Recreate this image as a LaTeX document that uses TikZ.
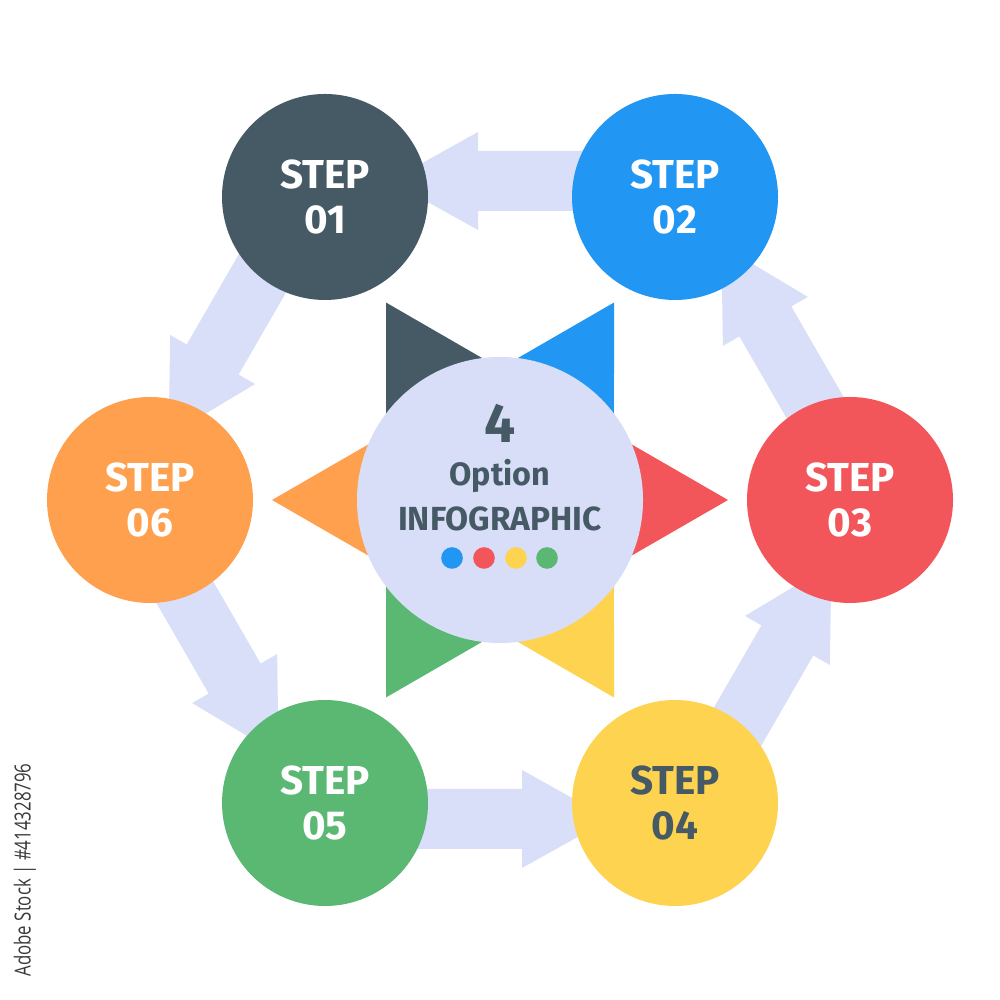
\documentclass[tikz,border=0pt]{standalone}
\usepackage{fontspec}
\setmainfont{Fira Sans}
\newfontfamily\wmfont{Open Sans}
\usetikzlibrary{calc}
\definecolor{cdark}{HTML}{465A66}
\definecolor{cblue}{HTML}{2196F3}
\definecolor{cred}{HTML}{F2565B}
\definecolor{cyellow}{HTML}{FED34F}
\definecolor{cgreen}{HTML}{5AB873}
\definecolor{corange}{HTML}{FFA04F}
\definecolor{chub}{HTML}{D8DDF8}
\definecolor{carrow}{HTML}{DADFF9}
\definecolor{ctext}{HTML}{455A64}
\definecolor{cwm}{HTML}{3A3A3A}
\pgfdeclarelayer{bg}
\pgfsetlayers{bg,main}
\tikzset{
  stepnode/.style={circle, minimum size=2.06cm, inner sep=0pt, align=center,
    font=\fontsize{11.5}{12.8}\selectfont\bfseries, text=white},
  hubnode/.style={circle, minimum size=2.86cm, inner sep=0pt, fill=chub},
  hubtext/.style={anchor=base, inner sep=0pt, text=ctext},
  dotnode/.style={circle, minimum size=0.216cm, inner sep=0pt},
}
\newcommand{\flowarrow}[2]{%
  \fill[carrow] let \p1=($(#2.center)-(#1.center)$), \n1={atan2(\y1,\x1)}, \n2={\n1-90} in
    ($(#1.center)+(\n1:0.80)+(\n2:0.46)$) --
    ($(#1.center)+(\n1:1.97)+(\n2:0.46)$) --
    ($(#1.center)+(\n1:1.97)+(\n2:0.65)$) --
    ($(#1.center)+(\n1:2.85)+(\n2:0.16)$) --
    ($(#1.center)+(\n1:1.97)+(\n2:-0.33)$) --
    ($(#1.center)+(\n1:1.97)+(\n2:-0.14)$) --
    ($(#1.center)+(\n1:0.80)+(\n2:-0.14)$) -- cycle;}
\begin{document}
\begin{tikzpicture}
\useasboundingbox (0,0) rectangle (10,10);
% star
\begin{scope}[shift={(5,5)}]
\foreach \a/\c in {0/cred,60/cblue,120/cdark,180/corange,240/cgreen,300/cyellow}
  \fill[\c] (\a:2.28) -- (\a+30:1.316) -- (\a-30:1.316) -- cycle;
\end{scope}
% hub
\node[hubnode] (hub) at (5,5) {};
\node[hubtext, font=\fontsize{15.7}{16}\selectfont\bfseries] (num) at (5,5.57) {4};
\node[hubtext, font=\fontsize{9.2}{10}\selectfont\bfseries] (opt) at (5,5.14) {Option};
\node[hubtext, font=\fontsize{9.5}{10}\selectfont\bfseries] (info) at (5,4.69) {INFOGRAPHIC};
\node[dotnode, fill=cblue] (d1) at (4.52,4.42) {};
\node[dotnode, fill=cred] (d2) at (4.84,4.42) {};
\node[dotnode, fill=cyellow] (d3) at (5.16,4.42) {};
\node[dotnode, fill=cgreen] (d4) at (5.47,4.42) {};
% steps
\node[stepnode, fill=cdark] (s1) at (3.25,8.03) {STEP\\01};
\node[stepnode, fill=cblue] (s2) at (6.75,8.03) {STEP\\02};
\node[stepnode, fill=cred] (s3) at (8.50,5.00) {STEP\\03};
\node[stepnode, fill=cyellow, text=ctext] (s4) at (6.75,1.97) {STEP\\04};
\node[stepnode, fill=cgreen] (s5) at (3.25,1.97) {STEP\\05};
\node[stepnode, fill=corange] (s6) at (1.50,5.00) {STEP\\06};
% watermark id
\node[rotate=90, text=cwm, inner sep=0pt, font=\wmfont\fontsize{6.3}{7}\selectfont] (wm) at (0.25,1.30) {\scalebox{0.76}[1]{Adobe Stock | \#414328796}};
\begin{pgfonlayer}{bg}
\fill[white] (0,0) rectangle (10,10);
\flowarrow{s2}{s1}
\flowarrow{s1}{s6}
\flowarrow{s6}{s5}
\flowarrow{s5}{s4}
\flowarrow{s4}{s3}
\flowarrow{s3}{s2}
\end{pgfonlayer}
\end{tikzpicture}
\end{document}
